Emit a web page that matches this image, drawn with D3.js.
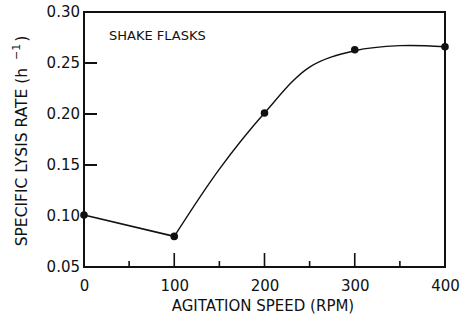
<!DOCTYPE html>
<html><head><meta charset="utf-8">
<script src="https://cdn.jsdelivr.net/npm/d3@7"></script>
<style>body{margin:0;background:#fff}svg{display:block}text{font-family:"DejaVu Sans",sans-serif;fill:#111}</style>
</head><body>
<script>
const rpm = [0, 100, 200, 300, 400];
const lysisRate = [0.101, 0.080, 0.201, 0.263, 0.266];
// smooth fitted curve for 100..400 rpm
const fitRpm = [100, 150, 200, 250, 300, 350, 400];
const fitRate = [0.080, 0.146, 0.201, 0.246, 0.262, 0.267, 0.266];
const xTicks = [0, 100, 200, 300, 400];
const xMajorMarks = [100, 200, 300];
const xMinorMarks = [50, 150, 250, 350];
const yTicks = [0.05, 0.10, 0.15, 0.20, 0.25, 0.30];
const yMarks = [0.15, 0.20, 0.25];

const W = 462, H = 320;
const X0 = 84, X1 = 445, Y0 = 267, Y1 = 12;
const svg = d3.select("body").append("svg").attr("width", W).attr("height", H);
const x = d3.scaleLinear().domain([0, 400]).range([X0, X1]);
const y = d3.scaleLinear().domain([0.05, 0.30]).range([Y0, Y1]);

// frame
svg.append("rect").attr("x", X0).attr("y", Y1).attr("width", X1 - X0).attr("height", Y0 - Y1)
  .attr("fill", "none").attr("stroke", "#111").attr("stroke-width", 2);

// y axis labels
const ya = svg.append("g").attr("transform", `translate(${X0},0)`)
  .call(d3.axisLeft(y).tickValues(yTicks).tickSize(0).tickPadding(4).tickFormat(d3.format(".2f")));
ya.select(".domain").remove();
ya.selectAll("text").attr("font-size", 15);

// x axis labels
const xa = svg.append("g").attr("transform", `translate(0,${Y0})`)
  .call(d3.axisBottom(x).tickValues(xTicks).tickSize(0).tickPadding(13).tickFormat(d3.format("d")));
xa.select(".domain").remove();
xa.selectAll("text").attr("font-size", 15);

// inside tick marks, positioned by the scales
const marks = svg.append("g").attr("stroke", "#111");
marks.selectAll("rect.ym").data(yMarks).join("rect").attr("class", "ym")
  .attr("x", X0).attr("width", 13).attr("y", d => y(d) - 1).attr("height", 2).attr("fill", "#111").attr("stroke", "none");
marks.selectAll("rect.xM").data(xMajorMarks).join("rect").attr("class", "xM")
  .attr("x", d => x(d) - 0.8).attr("width", 1.6).attr("y", Y0 - 14).attr("height", 14).attr("fill", "#111").attr("stroke", "none");
marks.selectAll("rect.xm").data(xMinorMarks).join("rect").attr("class", "xm")
  .attr("x", d => x(d) - 0.8).attr("width", 1.6).attr("y", Y0 - 6).attr("height", 6).attr("fill", "#111").attr("stroke", "none");

// titles
svg.append("text").attr("x", 263).attr("y", 311).attr("text-anchor", "middle")
  .attr("font-size", 15).text("AGITATION SPEED (RPM)");
const yt = svg.append("text").attr("transform", `translate(27,141) rotate(-90)`)
  .attr("text-anchor", "middle").attr("font-size", 15.5);
yt.append("tspan").text("SPECIFIC LYSIS RATE (h ");
yt.append("tspan").attr("dy", -7).attr("dx", 3).attr("font-size", 11).text("−1");
yt.append("tspan").attr("dy", 7).attr("dx", 2).text(")");
svg.append("text").attr("x", 109).attr("y", 40).attr("font-size", 13).text("SHAKE FLASKS");

// lines
const pts = rpm.map((r, i) => [r, lysisRate[i]]);
svg.append("path").datum(pts.slice(0, 2)).attr("fill", "none").attr("stroke", "#111").attr("stroke-width", 1.6)
  .attr("d", d3.line().x(d => x(d[0])).y(d => y(d[1])));
const fit = fitRpm.map((r, i) => [r, fitRate[i]]);
svg.append("path").datum(fit).attr("fill", "none").attr("stroke", "#111").attr("stroke-width", 1.4)
  .attr("d", d3.line().x(d => x(d[0])).y(d => y(d[1])).curve(d3.curveCatmullRom));
svg.selectAll("circle").data(pts).join("circle")
  .attr("cx", d => x(d[0])).attr("cy", d => y(d[1])).attr("r", 3.8).attr("fill", "#111");
</script>
</body></html>
